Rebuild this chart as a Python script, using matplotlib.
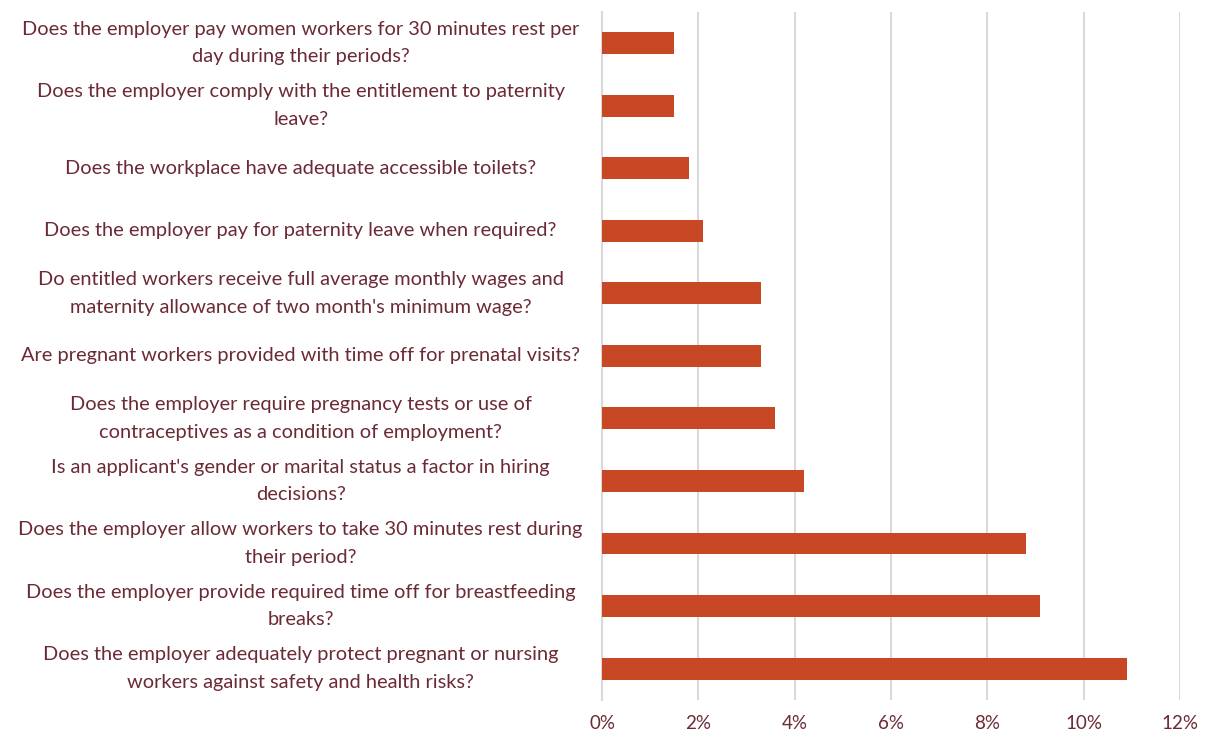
import numpy as np
import matplotlib.pyplot as plt

questions = [
    "Does the employer pay women workers for 30 minutes rest per\nday during their periods?",
    "Does the employer comply with the entitlement to paternity\nleave?",
    "Does the workplace have adequate accessible toilets?",
    "Does the employer pay for paternity leave when required?",
    "Do entitled workers receive full average monthly wages and\nmaternity allowance of two month's minimum wage?",
    "Are pregnant workers provided with time off for prenatal visits?",
    "Does the employer require pregnancy tests or use of\ncontraceptives as a condition of employment?",
    "Is an applicant's gender or marital status a factor in hiring\ndecisions?",
    "Does the employer allow workers to take 30 minutes rest during\ntheir period?",
    "Does the employer provide required time off for breastfeeding\nbreaks?",
    "Does the employer adequately protect pregnant or nursing\nworkers against safety and health risks?",
]
rates = [1.5, 1.5, 1.8, 2.1, 3.3, 3.3, 3.6, 4.2, 8.8, 9.1, 10.9]
xticks = [0, 2, 4, 6, 8, 10, 12]

bar_color = "#C84826"
text_color = "#6B2A35"

plt.rcParams['font.family'] = ['Lato', 'DejaVu Sans']

fig = plt.figure(figsize=(12.05, 7.36), dpi=100)
ax = fig.add_axes([0.4996, 0.049, 0.4796, 0.935])

y = np.arange(len(questions))
ax.barh(y, rates, height=0.35, color=bar_color, zorder=3)
ax.set_ylim(len(questions) - 0.5, -0.5)
ax.set_xlim(0, 12)
ax.set_xticks(xticks)
ax.set_xticklabels([f"{t}%" for t in xticks], color=text_color, fontsize=13.5)
ax.set_yticks(y)
ax.set_yticklabels(questions, color=text_color, fontsize=14.4, ha='center', va='center', linespacing=1.75)
# pad in points: label centres sit ~302 px left of the axis
ax.tick_params(axis='y', length=0, pad=217)
ax.tick_params(axis='x', length=0, pad=11)
ax.grid(axis='x', color='#D9D9D9', linewidth=1.5, zorder=0)
for s in ['top', 'right', 'bottom']:
    ax.spines[s].set_visible(False)
ax.spines['left'].set_color('#D9D9D9')
ax.spines['left'].set_linewidth(1.5)

fig.savefig("out.png", dpi=100)
